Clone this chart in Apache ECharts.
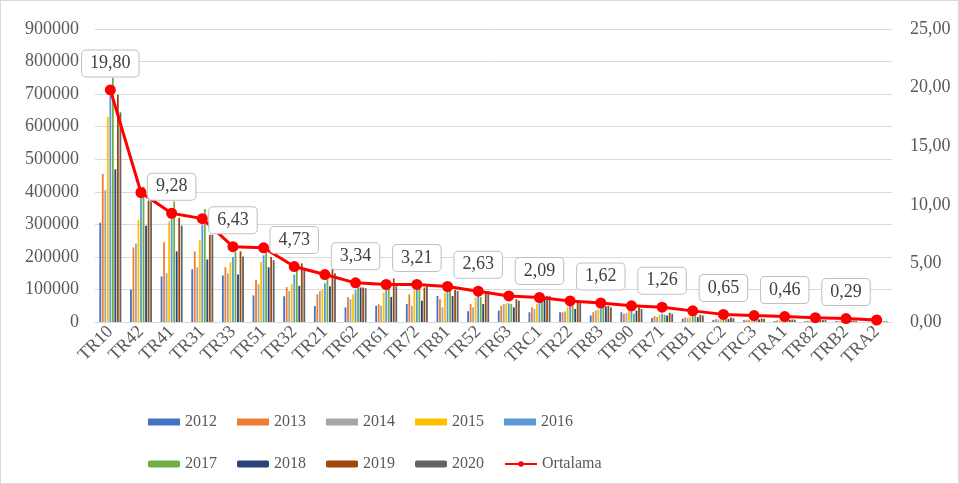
<!DOCTYPE html>
<html>
<head>
<meta charset="utf-8">
<script src="https://cdn.jsdelivr.net/npm/echarts@6/dist/echarts.min.js"></script>
<style>
html,body{margin:0;padding:0;background:#fff;}
#chart{width:959px;height:484px;box-sizing:border-box;border:1px solid #d9d9d9;}
</style>
</head>
<body>
<div id="chart"></div>
<script>
const categories = ['TR10','TR42','TR41','TR31','TR33','TR51','TR32','TR21','TR62','TR61','TR72','TR81','TR52','TR63','TRC1','TR22','TR83','TR90','TR71','TRB1','TRC2','TRC3','TRA1','TR82','TRB2','TRA2'];
const years = ['2012','2013','2014','2015','2016','2017','2018','2019','2020'];

const y2012 = [305000,100000,140000,162000,143000,82000,79000,49000,45000,50000,55000,80000,33000,35000,30000,30000,20000,30000,12000,10000,6000,5000,3000,2500,2000,800];
const y2013 = [455000,229000,245000,217000,168000,129000,107000,85000,77000,55000,85000,70000,55000,50000,45000,30000,30000,25000,18000,14000,9000,7000,5000,4000,3000,1200];
const y2014 = [405000,241000,150000,168000,150000,116000,95000,95000,70000,50000,50000,45000,45000,55000,40000,32000,35000,27000,15000,12000,8000,6000,4000,3500,2500,1000];
const y2015 = [630000,314000,309000,253000,183000,184000,116000,100000,85000,90000,98000,90000,75000,57000,55000,45000,38000,35000,22000,16000,10000,8000,6000,5000,3500,1500];
const y2016 = [695000,385000,339000,299000,200000,205000,146000,119000,98000,98000,106000,95000,85000,57000,60000,50000,42000,38000,25000,18000,11000,9000,7000,5500,4000,1800];
const y2017 = [750000,416000,370000,347000,215000,215000,162000,131000,106000,106000,110000,100000,77000,55000,65000,50000,45000,25000,22000,20000,12000,10000,7000,6000,4000,2000];
const y2018 = [469000,296000,217000,192000,146000,168000,111000,110000,106000,77000,65000,80000,55000,45000,75000,40000,48000,35000,20000,15000,9000,8000,6000,5000,3500,1500];
const y2019 = [698000,373000,320000,268000,217000,200000,180000,162000,106000,134000,106000,98000,87000,70000,80000,60000,50000,45000,28000,22000,14000,11000,8000,6500,4500,2200];
const y2020 = [644000,370000,296000,268000,201000,190000,162000,150000,104000,110000,110000,95000,95000,65000,80000,60000,45000,40000,25000,20000,12000,10000,7000,6000,4000,2000];
const ortalama = [19.80,11.05,9.28,8.82,6.43,6.33,4.73,4.05,3.34,3.20,3.21,3.03,2.63,2.22,2.09,1.80,1.62,1.38,1.26,0.95,0.65,0.55,0.46,0.37,0.29,0.17];

const leftTicks = [0,100000,200000,300000,400000,500000,600000,700000,800000,900000];
const rightTicks = [0,5,10,15,20,25];

const barSeriesValues = [y2012,y2013,y2014,y2015,y2016,y2017,y2018,y2019,y2020];
const colors = ['#4472C4','#ED7D31','#A5A5A5','#FFC000','#5B9BD5','#70AD47','#264478','#9E480E','#636363'];

const FONT = 'Liberation Serif';
const TXT = '#595959';

const series = barSeriesValues.map((vals, i) => ({
  name: years[i],
  type: 'bar',
  data: vals,
  barWidth: 1.8,
  barGap: '40%',
  itemStyle: { color: colors[i] },
  yAxisIndex: 0
}));

series.push({
  name: 'Ortalama',
  type: 'line',
  yAxisIndex: 1,
  z: 10,
  symbol: 'circle',
  symbolSize: 11,
  lineStyle: { color: '#FF0000', width: 3 },
  itemStyle: { color: '#FF0000' },
  data: ortalama.map((v, i) => ({ value: v, label: { show: i % 2 === 0 } })),
  label: {
    position: 'top',
    distance: 8,
    fontFamily: FONT,
    fontSize: 18,
    color: '#404040',
    backgroundColor: '#ffffff',
    borderColor: '#bfbfbf',
    borderWidth: 1,
    borderRadius: 4,
    padding: [4, 8],
    formatter: p => p.value.toFixed(2).replace('.', ',')
  }
});

const chart = echarts.init(document.getElementById('chart'));
chart.setOption({
  animation: false,
  textStyle: { fontFamily: FONT },
  grid: { left: 94, right: 66, top: 28, bottom: 161, containLabel: false },
  legend: [
    {
      data: years.slice(0, 5),
      left: 147, top: 413, padding: 0,
      itemWidth: 32, itemHeight: 7, itemGap: 20,
      icon: 'rect',
      textStyle: { fontFamily: FONT, fontSize: 16, color: TXT }
    },
    {
      data: [...years.slice(5), 'Ortalama'],
      left: 147, top: 455, padding: 0,
      itemWidth: 32, itemHeight: 7, itemGap: 20,
      textStyle: { fontFamily: FONT, fontSize: 16, color: TXT }
    }
  ],
  xAxis: {
    type: 'category',
    data: categories,
    axisLine: { lineStyle: { color: '#d9d9d9' } },
    axisTick: { show: false },
    axisLabel: { rotate: 45, fontFamily: FONT, fontSize: 18, color: TXT, margin: 7, interval: 0 }
  },
  yAxis: [
    {
      type: 'value', min: leftTicks[0], max: leftTicks[leftTicks.length - 1], interval: 100000,
      axisLine: { show: false }, axisTick: { show: false },
      splitLine: { lineStyle: { color: '#d9d9d9' } },
      axisLabel: { fontFamily: FONT, fontSize: 18, color: TXT, margin: 16, formatter: v => String(v) }
    },
    {
      type: 'value', min: rightTicks[0], max: rightTicks[rightTicks.length - 1], interval: 5,
      axisLine: { show: false }, axisTick: { show: false },
      splitLine: { show: false },
      axisLabel: { fontFamily: FONT, fontSize: 18, color: TXT, margin: 18,
        formatter: v => v.toFixed(2).replace('.', ',') }
    }
  ],
  series: series
});
</script>
</body>
</html>
